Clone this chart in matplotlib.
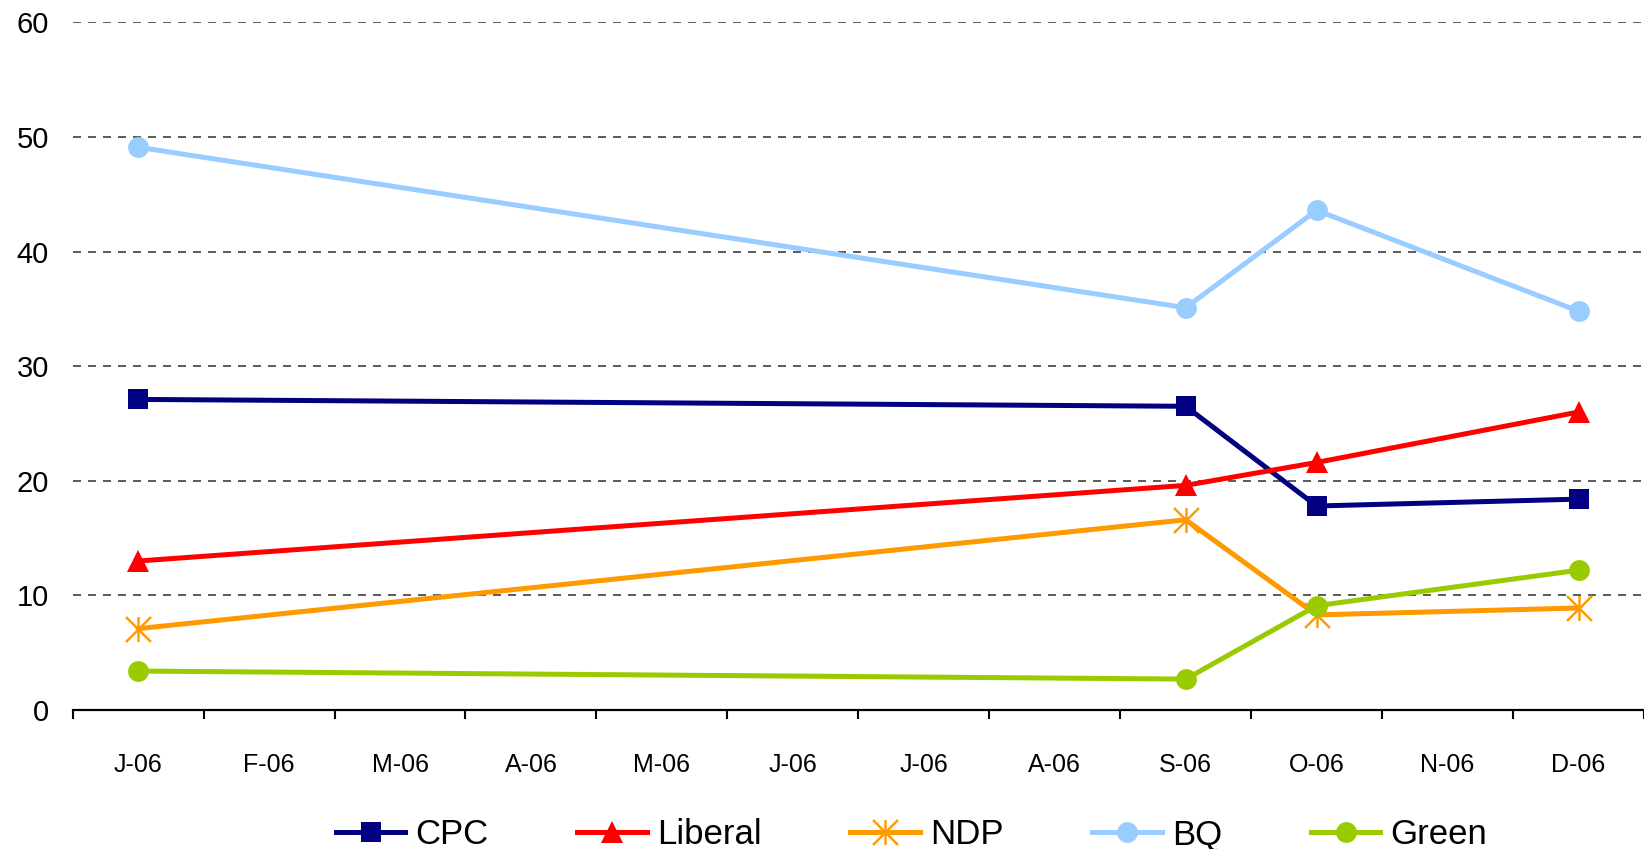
import matplotlib.pyplot as plt
from matplotlib.path import Path
from matplotlib.ticker import FixedLocator

OUTPUT_FIG = "out.png"

MONTHS = ["J-06", "F-06", "M-06", "A-06", "M-06", "J-06",
          "J-06", "A-06", "S-06", "O-06", "N-06", "D-06"]
# polls were only taken in these months (position in MONTHS)
SURVEY_POS = [0, 8, 9, 11]

CPC = [27.1, 26.5, 17.8, 18.4]
LIBERAL = [13.0, 19.6, 21.6, 26.0]
NDP = [7.1, 16.6, 8.3, 8.9]
BQ = [49.1, 35.1, 43.6, 34.8]
GREEN = [3.4, 2.7, 9.1, 12.2]

Y_TICKS = [0, 10, 20, 30, 40, 50, 60]


def asterisk_marker():
    # Excel-style star: a vertical stroke plus an X
    verts = [(0, -1), (0, 1), (-1, -1), (1, 1), (-1, 1), (1, -1)]
    codes = [Path.MOVETO, Path.LINETO] * 3
    return Path(verts, codes)


def main():
    plt.rcParams["font.family"] = ["Liberation Sans", "DejaVu Sans"]

    fig = plt.figure(figsize=(16.44, 8.49), dpi=100)
    ax = fig.add_axes([0.0442, 0.1637, 0.9558, 0.8100])

    star = asterisk_marker()
    series = [
        ("CPC", CPC, "#000080", "s", 14.8),
        ("Liberal", LIBERAL, "#FF0000", "^", 15.5),
        ("NDP", NDP, "#FF9900", star, 18),
        ("BQ", BQ, "#99CCFF", "o", 15),
        ("Green", GREEN, "#99CC00", "o", 15),
    ]

    for name, vals, color, marker, ms in series:
        if marker is star:
            ax.plot(SURVEY_POS, vals, color=color, linewidth=3.6,
                    marker=marker, markersize=ms, markerfacecolor="none",
                    markeredgecolor=color, markeredgewidth=1.7,
                    label=name, zorder=3, clip_on=False)
        else:
            ax.plot(SURVEY_POS, vals, color=color, linewidth=3.6,
                    marker=marker, markersize=ms, markerfacecolor=color,
                    markeredgecolor=color, markeredgewidth=0,
                    label=name, zorder=3, clip_on=False)

    ax.set_xlim(-0.5, len(MONTHS) - 0.5)
    ax.set_ylim(0, 60)

    # tick marks on the category boundaries, labels in the middle
    ax.xaxis.set_major_locator(FixedLocator([i - 0.5 for i in range(len(MONTHS) + 1)]))
    ax.xaxis.set_minor_locator(FixedLocator(list(range(len(MONTHS)))))
    ax.set_xticklabels([], minor=False)
    ax.set_xticklabels(MONTHS, minor=True, fontsize=18)
    ax.tick_params(axis="x", which="major", direction="out", length=6.5,
                   width=1.5, color="black")
    ax.tick_params(axis="x", which="minor", length=0, pad=31)

    ax.set_yticks(Y_TICKS)
    ax.set_yticklabels([str(v) for v in Y_TICKS], fontsize=21)
    ax.tick_params(axis="y", length=0, pad=17)

    ax.yaxis.grid(True, linestyle=(0, (4.8, 4.2)), color="#404040",
                  linewidth=1.2, zorder=0)
    ax.set_axisbelow(True)

    for side in ["top", "right", "left"]:
        ax.spines[side].set_visible(False)
    ax.spines["bottom"].set_linewidth(1.6)
    ax.spines["bottom"].set_zorder(2)

    fig.legend(loc="center", bbox_to_anchor=(0.5544, 0.0165), ncol=5,
               frameon=False, fontsize=25, handlelength=2.0,
               handletextpad=0.29, columnspacing=2.56, borderpad=0,
               borderaxespad=0)

    fig.savefig(OUTPUT_FIG, dpi=100)


if __name__ == "__main__":
    main()
